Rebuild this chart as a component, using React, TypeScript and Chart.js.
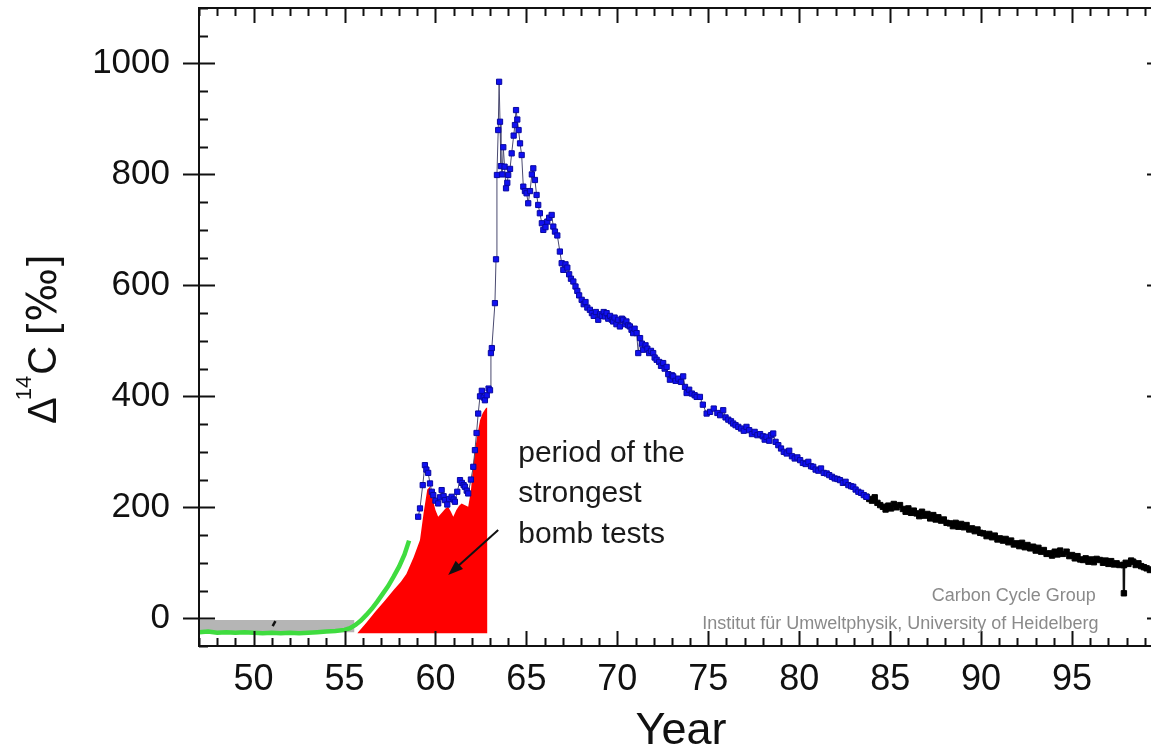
import React, { useEffect, useRef } from 'react';
import { Chart, registerables } from 'chart.js';

Chart.register(...registerables);

const FONT = '"Liberation Sans", Arial, Helvetica, sans-serif';
const CANVAS_W = 1180;
const CANVAS_H = 752;

// Axis definitions
const xMin = 47;
const xMax = 100;
const yMin = -50;
const yMax = 1100;
const xTickValues = [50, 55, 60, 65, 70, 75, 80, 85, 90, 95];
const yTickValues = [0, 200, 400, 600, 800, 1000];
const xTitle = 'Year';

// Gray pre-bomb band
const grayYears = [47, 55.55];
const grayValues = [-3, -3];

// Small black mark in the gray band
const markYears = [51.05, 51.2];
const markValues = [-14, -5];

// Green line (pre-bomb / early rise)
const greenYears = [47.0, 47.5, 48.0, 48.5, 49.0, 49.5, 50.0, 50.5, 51.0, 51.5, 52.0, 52.5, 53.0, 53.5, 54.0, 54.5, 55.0, 55.3, 55.6, 55.9, 56.2, 56.5, 56.8, 57.1, 57.4, 57.7, 58.0, 58.3, 58.55];
const greenValues = [-25, -24, -26, -25, -26, -25, -26, -27, -26, -27, -26, -27, -26, -25, -24, -23, -21, -18, -12, -4, 6, 17, 30, 44, 58, 75, 93, 115, 140];

// Red area: period of the strongest bomb tests
const redYears = [55.7, 56.2, 56.7, 57.2, 57.7, 58.1, 58.4, 58.8, 59.15, 59.35, 59.55, 59.7, 59.85, 60.0, 60.15, 60.35, 60.55, 60.7, 60.85, 60.98, 61.15, 61.3, 61.44, 61.6, 61.8, 61.95, 62.08, 62.25, 62.45, 62.6, 62.78, 62.85, 62.86];
const redValues = [-27, -8, 12, 31, 51, 66, 80, 110, 141, 190, 232, 237, 215, 195, 183, 190, 198, 201, 192, 183, 195, 203, 207, 204, 201, 230, 279, 320, 357, 370, 379, 380, -27];

// Blue measurements (connected)
const blueYears = [
  59.05, 59.15, 59.3, 59.42, 59.5, 59.6, 59.7, 59.8, 59.88, 60.0, 60.15, 60.25, 60.34, 60.45, 60.52, 60.65, 60.75, 60.89, 61.0, 61.07,
  61.2, 61.35, 61.45, 61.55, 61.62, 61.72, 61.8, 61.95, 62.08, 62.17, 62.26, 62.35, 62.45, 62.55, 62.65, 62.72, 62.82, 62.92, 63.0, 63.05,
  63.1, 63.27, 63.33, 63.38, 63.45, 63.5, 63.55, 63.6, 63.67, 63.73, 63.8, 63.88, 63.95, 64.0, 64.1, 64.19, 64.3, 64.37, 64.43, 64.5,
  64.57, 64.65, 64.74, 64.83, 64.92, 65.01, 65.1, 65.2, 65.3, 65.38, 65.47, 65.56, 65.65, 65.74, 65.85, 65.93, 66.05, 66.15, 66.25, 66.39,
  66.48, 66.57, 66.7, 66.84, 66.94, 67.03, 67.15, 67.25, 67.35, 67.45, 67.58, 67.7, 67.8, 67.9, 68.04, 68.15, 68.25, 68.35, 68.49, 68.6,
  68.7, 68.82, 68.95, 69.05, 69.15, 69.25, 69.32, 69.41, 69.5, 69.6, 69.7, 69.77, 69.85, 69.95, 70.05, 70.14, 70.25, 70.32, 70.42, 70.5,
  70.6, 70.69, 70.78, 70.87, 70.95, 71.06, 71.15, 71.25, 71.35, 71.42, 71.55, 71.65, 71.75, 71.85, 71.97, 72.05, 72.16, 72.3, 72.4, 72.52,
  72.6, 72.71, 72.8, 72.89, 73.0, 73.07, 73.2, 73.35, 73.5, 73.62, 73.72, 73.81, 73.95, 74.1, 74.25, 74.36, 74.54, 74.7, 74.91, 75.1,
  75.3, 75.5, 75.65, 75.82, 75.95, 76.1, 76.25, 76.37, 76.5, 76.65, 76.8, 76.95, 77.1, 77.25, 77.4, 77.55, 77.7, 77.85, 78.0, 78.1,
  78.2, 78.35, 78.45, 78.57, 78.7, 78.85, 79.0, 79.15, 79.31, 79.45, 79.6, 79.75, 79.9, 80.05, 80.2, 80.35, 80.5, 80.65, 80.77, 80.9,
  81.05, 81.2, 81.35, 81.51, 81.65, 81.8, 81.95, 82.1, 82.24, 82.4, 82.55, 82.7, 82.85, 82.97, 83.1, 83.25, 83.4, 83.55, 83.7
];
const blueValues = [
  183, 198, 240, 276, 268, 262, 243, 228, 222, 212, 207, 218, 231, 220, 213, 205, 215, 219, 214, 210,
  228, 249, 244, 240, 237, 230, 225, 250, 273, 303, 334, 369, 400, 410, 398, 393, 402, 414, 411, 478,
  487, 568, 647, 799, 880, 967, 895, 815, 800, 849, 814, 775, 785, 799, 810, 838, 870, 889, 916, 899,
  880, 856, 835, 778, 770, 766, 748, 770, 800, 811, 790, 763, 745, 730, 712, 700, 705, 715, 722, 727,
  706, 697, 690, 661, 640, 628, 638, 632, 620, 612, 607, 598, 590, 582, 574, 566, 570, 560, 556, 550,
  545, 552, 538, 548, 545, 552, 544, 550, 540, 545, 538, 535, 542, 530, 538, 526, 540, 538, 530, 535,
  528, 526, 520, 514, 522, 514, 478, 505, 495, 484, 492, 486, 478, 482, 478, 470, 466, 462, 455, 460,
  450, 453, 440, 430, 438, 436, 428, 432, 426, 436, 417, 406, 412, 405, 402, 399, 399, 385, 369, 372,
  378, 370, 366, 375, 362, 358, 355, 351, 348, 345, 342, 338, 345, 339, 332, 336, 330, 332, 328, 322,
  327, 320, 330, 333, 318, 312, 306, 300, 297, 302, 292, 288, 290, 285, 280, 278, 282, 274, 273, 268,
  266, 270, 262, 261, 258, 255, 252, 251, 249, 244, 246, 240, 238, 237, 232, 228, 226, 222, 219
];

// Black measurements (connected)
const blackYears = [
  83.7, 83.85, 84.0, 84.15, 84.3, 84.45, 84.6, 84.75, 84.9, 85.05, 85.2, 85.35, 85.54, 85.7, 85.85, 86.0, 86.15, 86.3, 86.45, 86.6,
  86.75, 86.9, 87.05, 87.2, 87.37, 87.5, 87.65, 87.8, 87.95, 88.1, 88.28, 88.45, 88.6, 88.75, 88.9, 89.05, 89.2, 89.35, 89.5, 89.65,
  89.8, 89.95, 90.12, 90.3, 90.45, 90.6, 90.75, 90.9, 91.03, 91.2, 91.35, 91.5, 91.65, 91.8, 91.95, 92.1, 92.25, 92.4, 92.55, 92.7,
  92.86, 93.0, 93.15, 93.3, 93.45, 93.6, 93.78, 93.9, 94.05, 94.2, 94.35, 94.5, 94.7, 94.85, 95.0, 95.15, 95.3, 95.45, 95.61, 95.75,
  95.9, 96.05, 96.2, 96.35, 96.53, 96.7, 96.85, 97.0, 97.15, 97.3, 97.45, 97.6, 97.84, 97.85, 97.86, 97.95, 98.1, 98.25, 98.36, 98.5,
  98.65, 98.8, 98.95, 99.1, 99.28, 99.45, 99.6
];
const blackValues = [
  219, 215, 212, 218, 208, 204, 201, 196, 203, 198, 206, 200, 204, 197, 192, 198, 190, 194, 189, 184,
  192, 185, 188, 180, 186, 178, 182, 176, 178, 172, 171, 166, 172, 165, 170, 164, 168, 160, 162, 157,
  160, 154, 153, 148, 152, 146, 149, 142, 144, 140, 143, 137, 140, 133, 135, 130, 136, 128, 132, 126,
  129, 122, 127, 120, 123, 116, 117, 113, 120, 115, 122, 116, 120, 112, 114, 108, 112, 106, 105, 108,
  102, 106, 101, 107, 105, 100, 104, 98, 103, 97, 99, 96, 96, 45, 96, 100, 98, 104, 102, 96,
  99, 94, 92, 90, 87, 88, 85
];

// Texts
const annotationLines = ['period of the', 'strongest', 'bomb tests'];
const creditLines = ['Carbon Cycle Group', 'Institut für Umweltphysik, University of Heidelberg'];

const toPoints = (xs: number[], ys: number[]) => xs.map((x, i) => ({ x, y: ys[i] }));

const framePlugin = {
  id: 'frameAndText',
  afterDraw(chart: any) {
    const { ctx, chartArea } = chart;
    const xs = chart.scales.x;
    const ys = chart.scales.y;
    const { left, right, top, bottom } = chartArea;
    ctx.save();
    ctx.strokeStyle = '#111';
    ctx.lineWidth = 2;
    ctx.strokeRect(left, top, right - left, bottom - top);

    // x ticks (minor each year, major every 5)
    for (let v = xMin; v <= xMax; v += 1) {
      const px = Math.round(xs.getPixelForValue(v)) + 0.5;
      const major = v % 5 === 0;
      const len = major ? 15 : 8;
      ctx.beginPath();
      ctx.moveTo(px, bottom);
      ctx.lineTo(px, bottom - len);
      ctx.moveTo(px, top);
      ctx.lineTo(px, top + len);
      ctx.stroke();
    }
    // y ticks (minor every 50, major every 200)
    for (let v = yMin; v <= yMax; v += 50) {
      const py = Math.round(ys.getPixelForValue(v)) + 0.5;
      const major = v % 200 === 0;
      ctx.beginPath();
      if (major) {
        ctx.moveTo(left - 16, py);
        ctx.lineTo(left + 16, py);
        ctx.moveTo(right - 16, py);
        ctx.lineTo(right + 16, py);
      } else {
        ctx.moveTo(left, py);
        ctx.lineTo(left + 9, py);
        ctx.moveTo(right, py);
        ctx.lineTo(right - 9, py);
      }
      ctx.stroke();
    }

    // Y axis title with superscript
    const cy = (top + bottom) / 2;
    ctx.save();
    ctx.translate(56, cy + 97);
    ctx.rotate(-Math.PI / 2);
    ctx.fillStyle = '#111';
    ctx.textBaseline = 'alphabetic';
    ctx.textAlign = 'left';
    ctx.font = `40px ${FONT}`;
    ctx.fillText('\u0394', 0, 0);
    const wD = ctx.measureText('\u0394').width;
    ctx.font = `22px ${FONT}`;
    ctx.fillText('14', wD - 3, -25);
    const w14 = ctx.measureText('14').width;
    ctx.font = `40px ${FONT}`;
    ctx.fillText('C [', wD - 3 + w14 + 1, 0);
    const wC = ctx.measureText('C [').width;
    ctx.font = `40px "DejaVu Sans", ${FONT}`;
    ctx.fillText('\u2030', wD - 3 + w14 + 1 + wC + 2, 0);
    const wP = ctx.measureText('\u2030').width;
    ctx.font = `40px ${FONT}`;
    ctx.fillText(']', wD - 3 + w14 + 1 + wC + 4 + wP, 0);
    ctx.restore();

    // Annotation text
    ctx.fillStyle = '#1a1a1a';
    ctx.font = `30px ${FONT}`;
    ctx.textAlign = 'left';
    ctx.textBaseline = 'alphabetic';
    const ax = xs.getPixelForValue(64.55);
    const ay = ys.getPixelForValue(282);
    annotationLines.forEach((t, i) => ctx.fillText(t, ax, ay + i * 40.5));

    // Arrow
    const x1 = xs.getPixelForValue(63.45), y1 = ys.getPixelForValue(159);
    const x2 = xs.getPixelForValue(60.7), y2 = ys.getPixelForValue(78);
    const ang = Math.atan2(y2 - y1, x2 - x1);
    ctx.strokeStyle = '#111';
    ctx.fillStyle = '#111';
    ctx.lineWidth = 2;
    ctx.beginPath();
    ctx.moveTo(x1, y1);
    ctx.lineTo(x2 - 10 * Math.cos(ang), y2 - 10 * Math.sin(ang));
    ctx.stroke();
    ctx.beginPath();
    ctx.moveTo(x2, y2);
    ctx.lineTo(x2 - 15 * Math.cos(ang) + 5.5 * Math.sin(ang), y2 - 15 * Math.sin(ang) - 5.5 * Math.cos(ang));
    ctx.lineTo(x2 - 15 * Math.cos(ang) - 5.5 * Math.sin(ang), y2 - 15 * Math.sin(ang) + 5.5 * Math.cos(ang));
    ctx.closePath();
    ctx.fill();

    // Credits
    ctx.fillStyle = '#8a8a8a';
    ctx.font = `18px ${FONT}`;
    ctx.textAlign = 'right';
    ctx.fillText(creditLines[0], xs.getPixelForValue(96.3), ys.getPixelForValue(31));
    ctx.fillText(creditLines[1], xs.getPixelForValue(96.45), ys.getPixelForValue(-19));
    ctx.restore();
  },
};

export default function App() {
  const canvasRef = useRef<HTMLCanvasElement | null>(null);

  useEffect(() => {
    const canvas = canvasRef.current;
    if (!canvas) return;
    const chart = new Chart(canvas, {
      type: 'line',
      data: {
        datasets: [
          {
            label: 'pre-bomb band',
            data: toPoints(grayYears, grayValues),
            borderWidth: 0,
            borderColor: 'rgba(0,0,0,0)',
            pointRadius: 0,
            backgroundColor: '#b5b5b5',
            fill: { value: -25 },
            order: 6,
          },
          {
            label: 'bomb tests',
            data: toPoints(redYears, redValues),
            borderWidth: 0,
            borderColor: 'rgba(0,0,0,0)',
            pointRadius: 0,
            backgroundColor: '#ff0000',
            fill: { value: -27 },
            order: 5,
          },
          {
            label: 'early',
            data: toPoints(greenYears, greenValues),
            borderColor: '#3fdc3f',
            borderWidth: 4.5,
            pointRadius: 0,
            fill: false,
            order: 4,
          },
          {
            label: 'mark',
            data: toPoints(markYears, markValues),
            borderColor: '#111',
            borderWidth: 2.5,
            pointRadius: 0,
            fill: false,
            order: 3,
          },
          {
            label: 'later',
            data: toPoints(blackYears, blackValues),
            borderColor: '#111',
            borderWidth: 2.4,
            pointStyle: 'rect',
            pointRadius: 3.8,
            pointBackgroundColor: '#000',
            pointBorderColor: '#000',
            pointBorderWidth: 1,
            fill: false,
            order: 2,
          },
          {
            label: 'measured',
            data: toPoints(blueYears, blueValues),
            borderColor: '#4a4a70',
            borderWidth: 1,
            pointStyle: 'rect',
            pointRadius: 3.7,
            pointBackgroundColor: '#1010f0',
            pointBorderColor: '#0808a0',
            pointBorderWidth: 1,
            fill: false,
            order: 1,
          },
        ],
      },
      options: {
        animation: false,
        responsive: false,
        devicePixelRatio: 1,
        layout: { padding: { left: 0, top: 8, right: CANVAS_W - 1163, bottom: 0 } },
        plugins: { legend: { display: false }, tooltip: { enabled: false } },
        elements: { line: { tension: 0 } },
        scales: {
          x: {
            type: 'linear',
            min: xMin,
            max: xMax,
            afterBuildTicks: (s: any) => {
              s.ticks = xTickValues.map((v) => ({ value: v }));
            },
            afterFit: (s: any) => {
              s.height = CANVAS_H - 646;
              s.paddingLeft = 0;
              s.paddingRight = 0;
            },
            grid: { display: false, drawTicks: false },
            border: { display: false },
            ticks: {
              font: { family: FONT, size: 36 },
              color: '#111',
              padding: 12,
              maxRotation: 0,
              autoSkip: false,
              callback: (v: any) => String(v),
            },
            title: {
              display: true,
              text: xTitle,
              font: { family: FONT, size: 45 },
              color: '#111',
              padding: { top: 0, bottom: -7 },
            },
          },
          y: {
            type: 'linear',
            min: yMin,
            max: yMax,
            afterBuildTicks: (s: any) => {
              s.ticks = yTickValues.map((v) => ({ value: v }));
            },
            afterFit: (s: any) => {
              s.width = 199;
              s.paddingTop = 0;
              s.paddingBottom = 0;
            },
            grid: { display: false, drawTicks: false },
            border: { display: false },
            ticks: {
              font: { family: FONT, size: 35 },
              color: '#111',
              padding: 29,
              autoSkip: false,
              callback: (v: any) => String(v),
            },
            title: { display: false },
          },
        },
      },
      plugins: [framePlugin],
    });
    return () => chart.destroy();
  }, []);

  return (
    <div
      style={{
        position: 'fixed',
        left: 0,
        top: 0,
        width: '1151px',
        height: '752px',
        overflow: 'hidden',
        background: '#fff',
      }}
    >
      <canvas
        ref={canvasRef}
        width={CANVAS_W}
        height={CANVAS_H}
        style={{ display: 'block', width: CANVAS_W + 'px', height: CANVAS_H + 'px' }}
      />
    </div>
  );
}
